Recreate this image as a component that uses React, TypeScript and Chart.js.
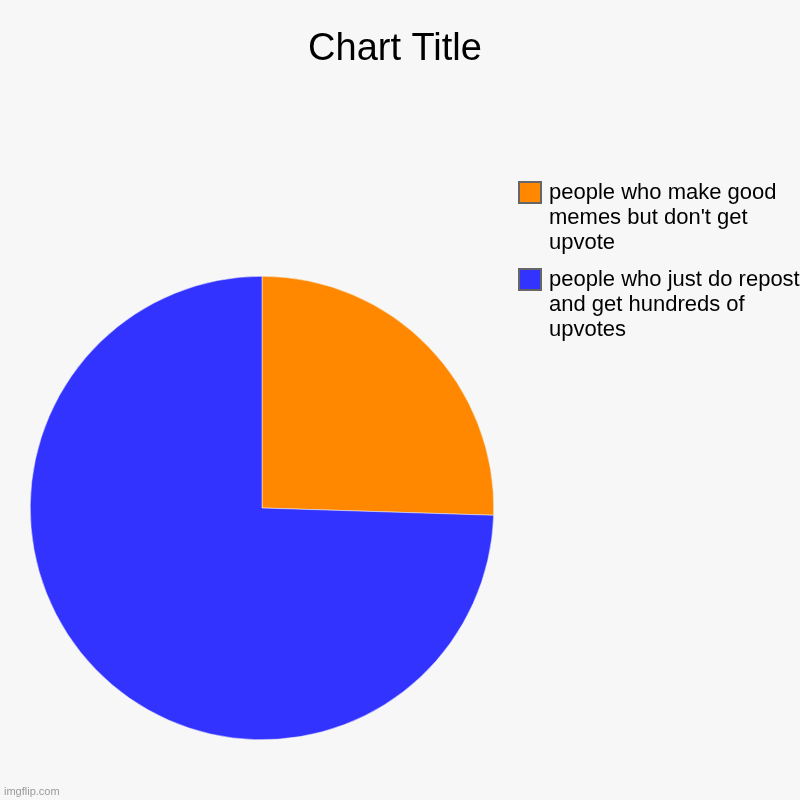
import React, { useEffect, useRef } from 'react';
import { Chart, registerables } from 'chart.js';
Chart.register(...registerables);

const labels = [
  "people who make good memes but don't get upvote",
  'people who just do repost and get hundreds of upvotes',
];
const values = [25.5, 74.5];
const colors = ['#ff8800', '#3333ff'];
const chartTitle = 'Chart Title';
const watermark = 'imgflip.com';

const FONT = '"Liberation Sans", Arial, sans-serif';
const BG = '#f7f7f7';

function wrap(ctx: CanvasRenderingContext2D, text: string, maxWidth: number) {
  const words = text.split(' ');
  const lines: string[] = [];
  let line = '';
  for (const w of words) {
    const test = line ? line + ' ' + w : w;
    if (ctx.measureText(test).width > maxWidth && line) {
      lines.push(line);
      line = w;
    } else {
      line = test;
    }
  }
  if (line) lines.push(line);
  return lines;
}

// draws background, title, the wrapped legend and the watermark
const decorPlugin = {
  id: 'decor',
  beforeDraw(chart: Chart) {
    const ctx = chart.ctx;
    ctx.save();
    ctx.fillStyle = BG;
    ctx.fillRect(0, 0, chart.width, chart.height);
    ctx.restore();
  },
  afterDraw(chart: Chart) {
    const ctx = chart.ctx;
    ctx.save();

    // title
    ctx.fillStyle = '#000';
    ctx.font = `38px ${FONT}`;
    ctx.textAlign = 'center';
    ctx.textBaseline = 'alphabetic';
    ctx.fillText(chartTitle, 395, 60);

    // legend
    ctx.font = `22px ${FONT}`;
    ctx.textAlign = 'left';
    ctx.textBaseline = 'middle';
    let y = 192;
    labels.forEach((label, i) => {
      ctx.fillStyle = colors[i];
      ctx.fillRect(519, y - 10, 22, 21);
      ctx.strokeStyle = '#666';
      ctx.lineWidth = 2;
      ctx.strokeRect(519, y - 10, 22, 21);
      ctx.fillStyle = '#000';
      const lines = wrap(ctx, label, 256);
      lines.forEach((ln, j) => ctx.fillText(ln, 549, y + j * 25 + 1));
      y += 87;
    });

    // watermark
    ctx.font = `11px ${FONT}`;
    ctx.fillStyle = '#999';
    ctx.textBaseline = 'alphabetic';
    ctx.fillText(watermark, 4, 795);

    ctx.restore();
  },
};

export default function App() {
  const canvasRef = useRef<HTMLCanvasElement>(null);
  const chartRef = useRef<Chart | null>(null);

  useEffect(() => {
    if (!canvasRef.current) return;
    if (chartRef.current) chartRef.current.destroy();

    chartRef.current = new Chart(canvasRef.current, {
      type: 'pie',
      data: {
        labels,
        datasets: [
          {
            data: values,
            backgroundColor: colors,
            borderColor: BG,
            borderWidth: 0.5,
          },
        ],
      },
      options: {
        responsive: false,
        animation: false,
        devicePixelRatio: 1,
        layout: { padding: { left: 30, right: 306, top: 276, bottom: 60 } },
        plugins: {
          legend: { display: false },
          title: { display: false },
          tooltip: { enabled: false },
        },
      },
      plugins: [decorPlugin],
    });

    return () => {
      if (chartRef.current) {
        chartRef.current.destroy();
        chartRef.current = null;
      }
    };
  }, []);

  return (
    <div style={{ position: 'absolute', left: 0, top: 0, width: 800, height: 800 }}>
      <canvas ref={canvasRef} width={800} height={800}></canvas>
    </div>
  );
}
